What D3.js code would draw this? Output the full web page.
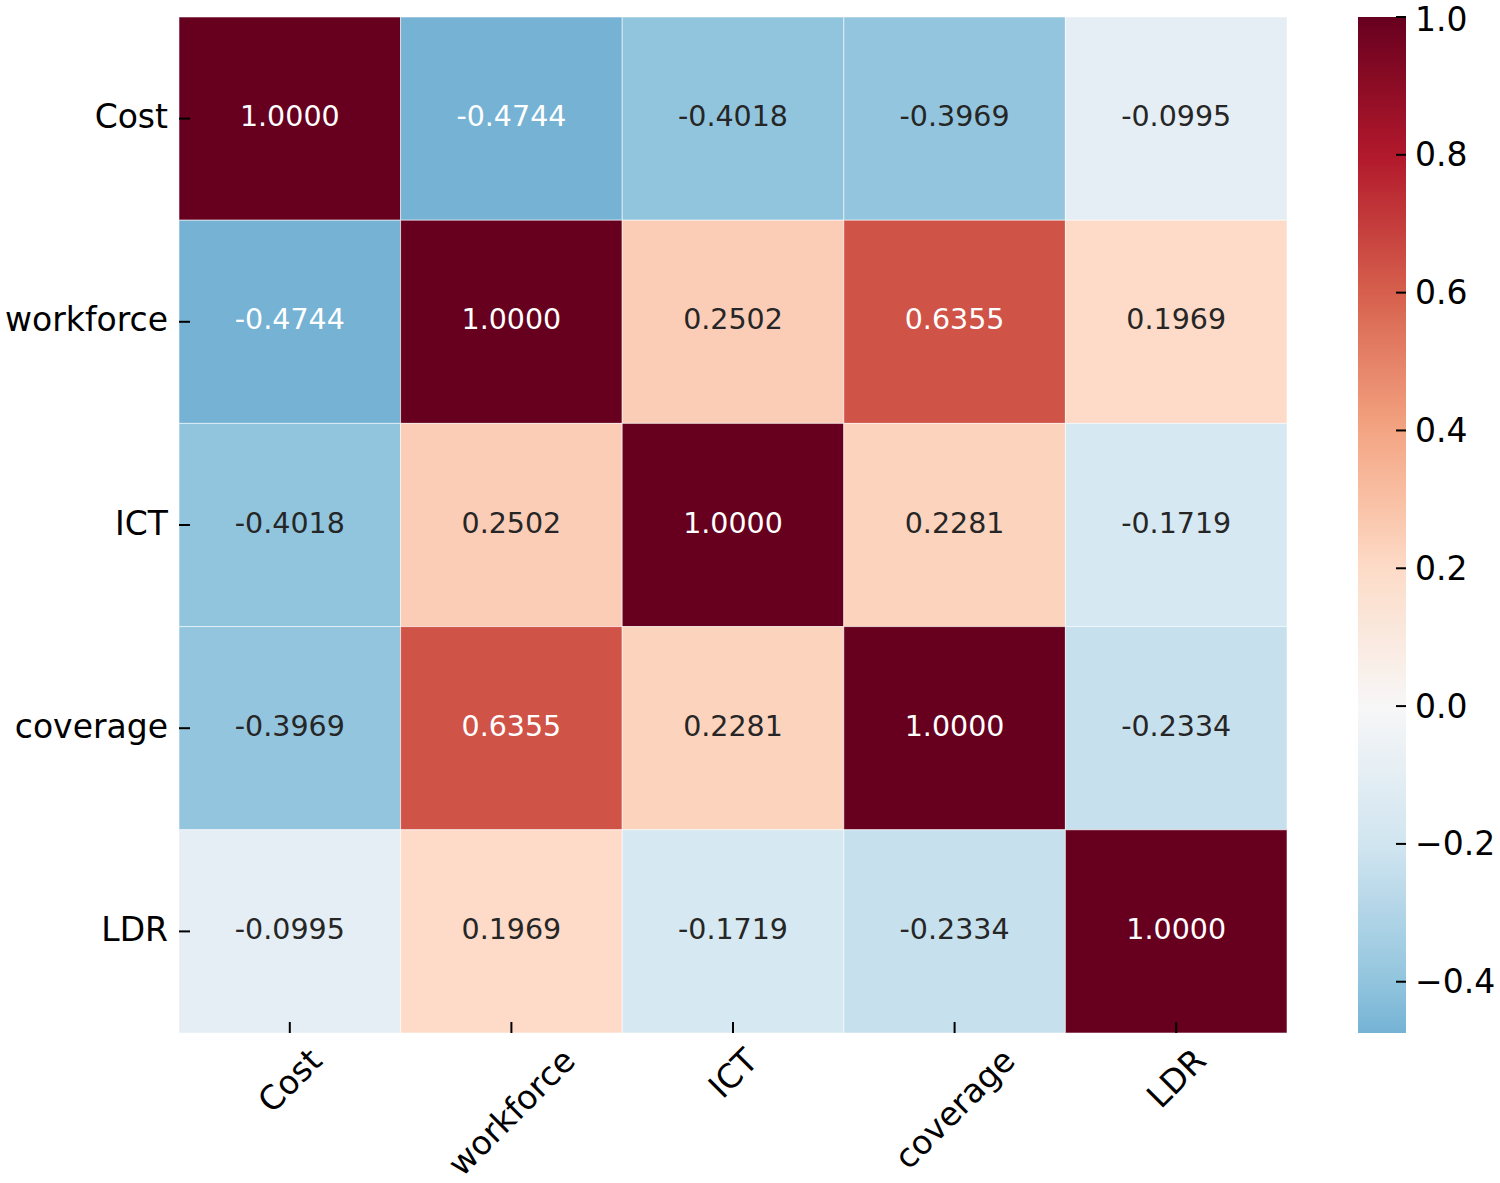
<!DOCTYPE html>
<html>
<head>
<meta charset="utf-8">
<script src="https://cdn.jsdelivr.net/npm/d3@7"></script>
<style>
  html, body { margin: 0; padding: 0; background: #fff; }
  svg { display: block; font-family: "DejaVu Sans", sans-serif; }
</style>
</head>
<body>
<svg id="chart" width="1500" height="1183"></svg>
<script>
const variables = ["Cost", "workforce", "ICT", "coverage", "LDR"];
const rowCost      = [1.0000, -0.4744, -0.4018, -0.3969, -0.0995];
const rowWorkforce = [-0.4744, 1.0000, 0.2502, 0.6355, 0.1969];
const rowICT       = [-0.4018, 0.2502, 1.0000, 0.2281, -0.1719];
const rowCoverage  = [-0.3969, 0.6355, 0.2281, 1.0000, -0.2334];
const rowLDR       = [-0.0995, 0.1969, -0.1719, -0.2334, 1.0000];
const matrixRows = [rowCost, rowWorkforce, rowICT, rowCoverage, rowLDR];
const colorbarTicks = [-0.4, -0.2, 0.0, 0.2, 0.4, 0.6, 0.8, 1.0];
const RdBuR = ["#053061","#2166ac","#4393c3","#92c5de","#d1e5f0","#f7f7f7","#fddbc7","#f4a582","#d6604d","#b2182b","#67001f"];

(function () {
const cells = [];
matrixRows.forEach((row, i) => row.forEach((v, j) => cells.push({row: variables[i], col: variables[j], v})));

const vmin = d3.min(cells, d => d.v), vmax = d3.max(cells, d => d.v);

// seaborn center=0: symmetric colormap range -1..1
const cmap = d3.scaleLinear()
  .domain(d3.range(11).map(k => -1 + k * 0.2))
  .range(RdBuR)
  .interpolate(d3.interpolateRgb)
  .clamp(true);

const svg = d3.select("#chart");
const pLeft = 179, pRight = 1287, pTop = 17, pBottom = 1033;

const x = d3.scaleBand().domain(variables).range([pLeft, pRight]);
const y = d3.scaleBand().domain(variables).range([pTop, pBottom]);

function lum(c) {
  const rgb = d3.rgb(c);
  const f = u => { u /= 255; return u <= 0.03928 ? u / 12.92 : Math.pow((u + 0.055) / 1.055, 2.4); };
  return 0.2126 * f(rgb.r) + 0.7152 * f(rgb.g) + 0.0722 * f(rgb.b);
}

const g = svg.append("g");
g.selectAll("rect.cell").data(cells).join("rect")
  .attr("class", "cell")
  .attr("x", d => x(d.col)).attr("y", d => y(d.row))
  .attr("width", x.bandwidth()).attr("height", y.bandwidth())
  .attr("fill", d => cmap(d.v))
  .attr("stroke", "rgba(255,255,255,0.55)").attr("stroke-width", 1);

g.selectAll("text.ann").data(cells).join("text")
  .attr("class", "ann")
  .attr("x", d => x(d.col) + x.bandwidth() / 2)
  .attr("y", d => y(d.row) + y.bandwidth() / 2 - 2)
  .attr("text-anchor", "middle").attr("dominant-baseline", "central")
  .attr("font-size", 28.5)
  .attr("fill", d => lum(cmap(d.v)) > 0.408 ? "#262626" : "#ffffff")
  .text(d => d.v.toFixed(4));

// Y axis ticks (drawn inward) and labels
variables.forEach(vn => {
  const cy = y(vn) + y.bandwidth() / 2;
  svg.append("line").attr("x1", pLeft).attr("x2", pLeft + 11).attr("y1", cy).attr("y2", cy)
    .attr("stroke", "#000").attr("stroke-width", 2);
  svg.append("text").attr("x", 168).attr("y", cy - 2)
    .attr("text-anchor", "end").attr("dominant-baseline", "central")
    .attr("font-size", 33).attr("fill", "#000").text(vn);
});

// X axis ticks and rotated labels
variables.forEach(vn => {
  const cx = x(vn) + x.bandwidth() / 2;
  svg.append("line").attr("x1", cx).attr("x2", cx).attr("y1", pBottom - 11).attr("y2", pBottom)
    .attr("stroke", "#000").attr("stroke-width", 2);
  const t = svg.append("text").attr("text-anchor", "middle").attr("dominant-baseline", "central")
    .attr("font-size", 33).attr("fill", "#000").text(vn);
  const w = t.node().getComputedTextLength();
  const h = 33 * 0.9;
  const half = (w + h) * Math.SQRT1_2 / 2;
  t.attr("transform", `translate(${cx},${pBottom + 11 + half}) rotate(-45)`);
});

// Colorbar
const cbX = 1358, cbW = 48;
const cbScale = d3.scaleLinear().domain([vmin, vmax]).range([pBottom, pTop]);
const defs = svg.append("defs");
const grad = defs.append("linearGradient").attr("id", "cbgrad")
  .attr("x1", 0).attr("y1", 1).attr("x2", 0).attr("y2", 0);
d3.range(0, 1.0001, 0.02).forEach(f => {
  const v = vmin + f * (vmax - vmin);
  grad.append("stop").attr("offset", f).attr("stop-color", cmap(v));
});
svg.append("rect").attr("x", cbX).attr("y", pTop).attr("width", cbW).attr("height", pBottom - pTop)
  .attr("fill", "url(#cbgrad)");

colorbarTicks.forEach(tv => {
  const ty = cbScale(tv);
  svg.append("line").attr("x1", cbX + cbW - 10).attr("x2", cbX + cbW).attr("y1", ty).attr("y2", ty)
    .attr("stroke", "#000").attr("stroke-width", 2);
  svg.append("text").attr("x", 1415).attr("y", Math.max(ty, 19))
    .attr("dominant-baseline", "central").attr("font-size", 33).attr("fill", "#000")
    .text(tv.toFixed(1).replace("-", "\u2212"));
});
})();
</script>
</body>
</html>
